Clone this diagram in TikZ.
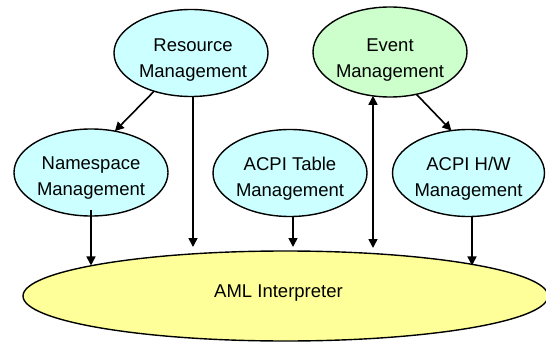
\documentclass[tikz,border=0pt]{standalone}
\usepackage{fontspec}
\setmainfont{Liberation Sans}
\usetikzlibrary{shapes.geometric,arrows.meta}
\definecolor{cyanfill}{HTML}{CCFFFF}
\definecolor{greenfill}{HTML}{CCFFCC}
\definecolor{yellowfill}{HTML}{FFFF99}
\tikzset{
  ell/.style={ellipse, draw=black, line width=1.4pt, inner sep=0pt, outer sep=0pt},
  smallell/.style={ell, minimum width=154pt, minimum height=87pt},
  txt/.style={align=center, inner sep=0pt, font=\fontsize{18.5}{26}\selectfont},
  arr/.style={line width=1.6pt, -{Triangle[length=9pt,width=9pt]}},
  darr/.style={line width=1.6pt, {Triangle[length=9pt,width=9pt]}-{Triangle[length=9pt,width=9pt]}}
}
\begin{document}
\begin{tikzpicture}[x=1pt,y=-1pt]
\useasboundingbox (0,0) rectangle (546,342);
% ellipses
\node[ell, fill=yellowfill, minimum width=525pt, minimum height=90pt] (aml) at (285.5,296) {};
\node[smallell, fill=cyanfill] (rm) at (191,53) {};
\node[smallell, fill=greenfill, minimum height=90pt] (ev) at (390,52) {};
\node[smallell, fill=cyanfill] (ns) at (91,172.5) {};
\node[smallell, fill=cyanfill] (tb) at (290,173) {};
\node[smallell, fill=cyanfill, minimum width=152pt] (hw) at (468.5,173) {};
% texts
\node[txt] (rmt) at ([xshift=2pt,yshift=-7.5pt]rm.center) {Resource\\Management};
\node[txt] (evt) at ([yshift=-8.5pt]ev.center) {Event\\Management};
\node[txt] (nst) at ([yshift=-5.5pt]ns.center) {Namespace\\Management};
\node[txt] (tbt) at ([yshift=-5.5pt]tb.center) {ACPI Table\\Management};
\node[txt] (hwt) at ([yshift=-5.5pt]hw.center) {ACPI H/W\\Management};
\node[txt] (amlt) at ([xshift=-7pt,yshift=2.5pt]aml.center) {AML Interpreter};
% connector end points
\coordinate (rmend) at (193,247);
\coordinate (nsst) at (91,210);
\coordinate (tbend) at (293,247);
\coordinate (evend) at (373,248);
\coordinate (hwx) at (472,217);
% connectors
\draw[arr] (rm.226) -- (ns.60);
\draw[arr] (rmend |- rm.272) -- (rmend);
\draw[arr] (nsst) -- (nsst |- aml.171.2);
\draw[arr] (tbend |- tb.south) -- (tbend);
\draw[darr] (evend) -- (evend |- ev.248.8);
\draw[arr] (ev.302) -- (hw.112);
\draw[arr] (hwx |- hw.south) -- (hwx |- aml.9.65);
\end{tikzpicture}
\end{document}
